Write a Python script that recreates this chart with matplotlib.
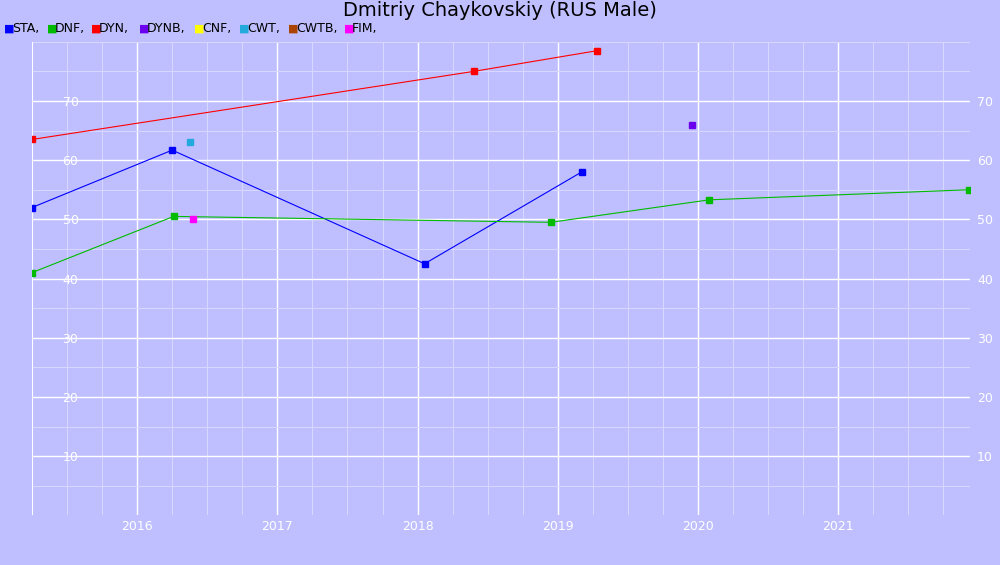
import matplotlib
matplotlib.use("Agg")
import matplotlib.pyplot as plt
from matplotlib.ticker import MultipleLocator

sta_x = [2015.25, 2016.25, 2018.05, 2019.17]
sta_y = [52, 61.7, 42.5, 58]
dnf_x = [2015.25, 2016.26, 2018.95, 2020.08, 2021.93]
dnf_y = [41, 50.5, 49.5, 53.3, 55]
dyn_x = [2015.25, 2018.4, 2019.28]
dyn_y = [63.5, 75, 78.5]
dynb_x = [2019.96]; dynb_y = [66]
cwt_x = [2016.38]; cwt_y = [63]
fim_x = [2016.4]; fim_y = [50]

bg = "#bfbfff"
fig = plt.figure(figsize=(10, 5.65), dpi=100, facecolor=bg)
ax = fig.add_axes([0.032, 0.088, 0.938, 0.838], facecolor=bg)
for s in ax.spines.values():
    s.set_visible(False)
ax.axvline(2015.25, color="white", lw=1.5)
ax.plot(sta_x, sta_y, color="#0000ff", lw=0.8, marker="s", ms=4)
ax.plot(dnf_x, dnf_y, color="#00bb00", lw=0.8, marker="s", ms=4)
ax.plot(dyn_x, dyn_y, color="#ff0000", lw=0.8, marker="s", ms=4)
ax.plot(dynb_x, dynb_y, ls="none", color="#6a00ee", marker="s", ms=4)
ax.plot(cwt_x, cwt_y, ls="none", color="#22aadd", marker="s", ms=4)
ax.plot(fim_x, fim_y, ls="none", color="#ff00ff", marker="s", ms=4)
ax.set_xlim(2015.25, 2021.94)
ax.set_ylim(0, 80)
ax.xaxis.set_minor_locator(MultipleLocator(0.25))
ax.yaxis.set_minor_locator(MultipleLocator(5))
ax.set_xticks([2016, 2017, 2018, 2019, 2020, 2021])
ax.set_xticklabels(["2016", "2017", "2018", "2019", "2020", "2021"])
ax.set_yticks([10, 20, 30, 40, 50, 60, 70])
ax.grid(which="major", color="white", lw=1)
ax.grid(which="minor", color="#d8d8ff", lw=0.7)
ax.set_axisbelow(True)
ax.tick_params(which="both", length=0, colors="white", labelsize=9)
ax.tick_params(axis="y", pad=-22)
for t in ax.get_yticklabels():
    t.set_horizontalalignment("left")
ax2 = ax.twinx()
ax2.set_ylim(0, 80)
ax2.set_yticks([10, 20, 30, 40, 50, 60, 70])
ax2.tick_params(length=0, colors="white", labelsize=9, pad=5)
for s in ax2.spines.values():
    s.set_visible(False)
fig.text(0.5, 0.998, "Dmitriy Chaykovskiy (RUS Male)", ha="center", va="top", fontsize=14)
labels = ["STA", "DNF", "DYN", "DYNB", "CNF", "CWT", "CWTB", "FIM"]
colors = ["#0000ff", "#00bb00", "#ff0000", "#6a00ee", "#ffff00", "#22aadd", "#aa4400", "#ff00ff"]
xpix = [4, 47, 91, 139, 194, 239, 288, 344]
for l, c, xp in zip(labels, colors, xpix):
    fig.text(xp / 1000, 0.95, "■", color=c, fontsize=8, va="center")
    fig.text((xp + 8) / 1000, 0.95, l + ",", fontsize=9, va="center")
fig.savefig("out.png", dpi=100, facecolor=bg)
